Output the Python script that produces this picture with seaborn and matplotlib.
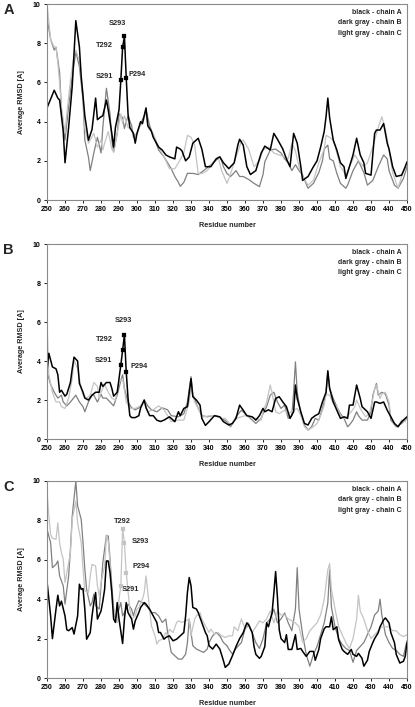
import numpy as np
import pandas as pd
import matplotlib
matplotlib.use('Agg')
import matplotlib.pyplot as plt
import seaborn as sns

# ---- Panel A data (residue, average RMSD) ----
a_black_res = [250, 254, 256, 257, 259, 260, 262, 264, 266, 268, 269, 271, 273, 275, 277, 278, 280, 281, 283, 284,
               286, 287, 288, 290, 291, 292, 293, 294, 295, 296, 298, 299, 300, 302, 303, 305, 306, 308, 309, 312,
               314, 316, 318, 321, 322, 324, 325, 327, 329, 331, 334, 336, 338, 341, 344, 346, 348, 351, 354, 356,
               357, 359, 361, 363, 366, 369, 371, 374, 376, 378, 381, 383, 385, 387, 389, 391, 392, 395, 398, 400,
               402, 404, 405, 406, 407, 409, 411, 413, 415, 416, 418, 420, 422, 424, 426, 427, 430, 432, 433, 435,
               437, 439, 440, 442, 444, 447, 449, 450]
a_black_val = [4.7, 5.6, 5.2, 5.1, 3.5, 1.9, 3.7, 5.8, 9.15, 7.8, 6.3, 4.3, 3.05, 3.6, 5.2, 4.1, 4.25, 4.3, 5.1, 4.6,
               3.4, 2.7, 3.7, 4.6, 6.1, 7.8, 8.35, 6.25, 4.4, 3.7, 3.4, 2.9, 3.4, 4.0, 3.9, 4.7, 3.8, 3.5, 3.2, 2.7,
               2.55, 2.3, 2.2, 2.1, 2.7, 2.6, 2.5, 2.0, 2.2, 2.9, 3.15, 2.6, 1.7, 1.7, 2.1, 2.2, 1.9, 1.6, 1.9, 2.8,
               3.1, 2.8, 1.7, 1.3, 1.5, 2.4, 2.75, 2.55, 3.4, 3.1, 2.6, 2.1, 1.7, 3.4, 2.9, 1.7, 1.0, 1.2, 1.7, 2.0,
               2.7, 3.5, 4.25, 5.2, 4.2, 3.06, 2.55, 1.9, 1.7, 1.1, 1.7, 2.3, 3.15, 2.3, 1.9, 1.36, 1.27, 3.4, 3.57, 3.57,
               3.9, 2.9, 2.6, 1.7, 1.2, 1.27, 1.7, 1.95]
a_dgray_res = [250, 252, 254, 255, 257, 258, 260, 262, 264, 266, 268, 270, 271, 273, 274, 276, 278, 280, 281, 283,
               285, 286, 287, 289, 290, 292, 293, 295, 297, 298, 300, 302, 304, 305, 307, 309, 312, 315, 317, 319,
               321, 323, 324, 326, 328, 331, 334, 337, 341, 346, 347, 348, 350, 352, 355, 357, 359, 362, 365, 368,
               370, 371, 374, 377, 380, 382, 384, 386, 388, 390, 392, 395, 398, 401, 403, 404, 406, 407, 409, 411,
               413, 416, 417, 420, 423, 426, 428, 431, 434, 437, 439, 440, 443, 445, 448, 450]
a_dgray_val = [9.3, 8.2, 7.65, 7.8, 6.5, 4.6, 3.06, 4.76, 6.3, 7.56, 6.8, 5.1, 3.06, 2.2, 1.5, 2.4, 3.2, 2.4, 3.7, 5.7,
               4.4, 3.06, 2.45, 3.4, 4.4, 4.2, 3.65, 4.3, 3.8, 3.2, 3.4, 3.9, 4.3, 4.6, 3.8, 3.3, 2.55, 2.2, 1.9, 1.6,
               1.2, 0.9, 0.7, 0.9, 1.36, 1.36, 1.3, 1.5, 1.8, 2.2, 2.0, 1.7, 1.35, 1.2, 1.5, 1.2, 1.2, 1.05, 0.85, 0.68,
               1.3, 1.95, 2.55, 2.6, 2.4, 2.1, 1.9, 1.5, 1.8, 1.5, 1.27, 0.6, 0.85, 1.4, 2.0, 2.6, 2.8, 2.1, 2.0, 1.36,
               0.85, 0.6, 0.76, 1.5, 2.0, 1.4, 0.76, 1.0, 1.7, 2.3, 2.1, 1.5, 0.76, 0.6, 1.1, 1.7]
a_lgray_res = [250, 252, 254, 255, 256, 257, 258, 260, 261, 263, 265, 266, 268, 270, 271, 273, 274, 276, 278, 280,
               281, 282, 284, 286, 287, 289, 291, 292, 293, 295, 297, 299, 301, 303, 305, 306, 309, 312, 315, 318,
               321, 323, 326, 328, 330, 332, 334, 336, 339, 342, 345, 347, 350, 352, 355, 358, 359, 362, 365, 368,
               370, 373, 376, 379, 382, 384, 386, 388, 390, 392, 395, 398, 401, 404, 405, 407, 409, 411, 413, 416,
               418, 421, 423, 426, 428, 431, 434, 436, 438, 440, 442, 445, 447, 450]
a_lgray_val = [10.0, 8.2, 7.8, 7.8, 7.0, 5.95, 4.76, 3.4, 4.4, 6.1, 7.4, 7.65, 7.1, 5.4, 3.7, 2.9, 3.06, 3.4, 2.7, 3.06,
               2.55, 2.9, 3.5, 2.6, 2.45, 3.4, 4.4, 3.9, 4.3, 3.7, 3.6, 3.2, 3.7, 3.9, 4.5, 3.7, 3.4, 2.7, 2.2, 1.6,
               1.6, 1.9, 2.4, 3.3, 3.2, 2.8, 1.35, 1.35, 1.5, 1.9, 2.2, 1.5, 0.85, 1.35, 2.2, 3.0, 3.06, 2.6, 1.7, 2.0,
               2.55, 2.7, 2.4, 2.3, 2.2, 2.1, 2.9, 2.5, 1.7, 1.2, 0.76, 1.0, 1.9, 2.6, 3.3, 3.2, 3.06, 2.4, 1.7, 1.27,
               1.7, 2.3, 2.0, 1.7, 1.9, 2.7, 3.7, 4.25, 3.57, 2.55, 1.4, 0.6, 1.2, 1.9]

# ---- Panel B data ----
b_black_res = [250, 251, 253, 255, 256, 257, 258, 260, 261, 263, 264, 265, 267, 268, 270, 271, 273, 275, 277, 279,
               280, 281, 283, 285, 286, 287, 289, 291, 292, 293, 294, 295, 296, 297, 299, 301, 302, 304, 305, 307,
               309, 311, 313, 315, 318, 321, 323, 324, 326, 328, 330, 331, 333, 335, 336, 338, 340, 343, 346, 348,
               351, 353, 355, 357, 359, 361, 364, 366, 368, 370, 371, 373, 375, 377, 379, 381, 383, 385, 387, 388,
               389, 391, 393, 395, 397, 399, 401, 403, 405, 406, 407, 409, 411, 413, 415, 417, 418, 420, 422, 424,
               425, 428, 430, 432, 433, 435, 437, 439, 441, 443, 445, 447, 450]
b_black_val = [3.5, 4.4, 3.7, 3.6, 3.3, 2.4, 2.5, 2.2, 2.3, 2.9, 3.6, 4.2, 4.0, 2.85, 2.4, 2.1, 2.0, 2.25, 2.4, 2.4,
               2.9, 2.7, 2.9, 2.9, 2.6, 2.2, 2.4, 3.8, 4.55, 5.35, 3.45, 2.1, 1.2, 1.1, 1.1, 1.2, 1.6, 2.0, 1.6, 1.2,
               1.2, 0.97, 0.9, 0.97, 1.14, 0.89, 1.4, 1.2, 1.57, 1.66, 3.1, 2.17, 2.0, 1.74, 1.06, 0.7, 0.89, 1.2, 1.14, 0.89,
               0.72, 0.8, 1.06, 1.74, 1.48, 1.2, 1.14, 0.97, 1.2, 1.57, 1.4, 1.5, 1.4, 2.08, 2.17, 1.9, 1.66, 1.06, 1.4, 2.77,
               2.08, 1.4, 0.8, 0.72, 1.06, 1.2, 1.3, 1.9, 2.4, 3.5, 2.6, 1.9, 1.48, 1.06, 1.14, 1.06, 1.74, 1.74, 2.77, 2.08,
               1.66, 1.4, 1.06, 1.9, 1.9, 1.83, 1.9, 1.48, 1.14, 0.8, 0.63, 0.89, 1.14]
b_dgray_res = [250, 252, 254, 256, 258, 259, 261, 263, 266, 268, 270, 271, 273, 275, 276, 278, 280, 281, 283, 285,
               287, 289, 291, 292, 293, 295, 297, 299, 301, 303, 304, 306, 308, 311, 314, 317, 319, 323, 326, 328,
               330, 331, 334, 336, 339, 342, 345, 347, 350, 352, 355, 358, 360, 363, 366, 369, 370, 372, 374, 376,
               378, 380, 382, 384, 386, 387, 388, 389, 391, 393, 395, 397, 399, 401, 403, 405, 406, 407, 409, 411,
               413, 415, 417, 418, 420, 422, 423, 425, 428, 430, 431, 433, 434, 436, 438, 440, 441, 444, 447, 450]
b_dgray_val = [3.45, 2.8, 2.4, 2.1, 2.25, 1.9, 1.7, 1.9, 2.25, 1.9, 1.66, 1.4, 1.9, 2.25, 2.25, 1.9, 2.3, 2.1, 2.1, 1.9,
               1.7, 2.25, 3.0, 3.3, 2.6, 1.9, 1.6, 1.5, 1.6, 1.8, 2.0, 1.7, 1.5, 1.4, 1.6, 1.5, 1.2, 1.14, 1.3, 1.9,
               3.2, 2.3, 1.57, 1.2, 1.14, 1.2, 1.14, 1.06, 0.89, 0.63, 1.14, 1.48, 1.3, 1.06, 0.8, 1.06, 1.3, 1.66, 2.25, 2.4,
               1.9, 1.57, 1.74, 1.06, 1.2, 2.4, 3.96, 2.4, 1.3, 0.72, 0.46, 0.63, 1.06, 0.97, 1.57, 2.3, 3.45, 2.6, 2.08, 1.66,
               1.3, 1.06, 0.63, 0.72, 0.97, 1.4, 1.2, 0.97, 0.97, 1.4, 2.25, 2.85, 2.25, 2.4, 2.3, 1.74, 0.97, 0.63, 0.8, 1.06]
b_lgray_res = [250, 251, 253, 255, 257, 258, 260, 262, 264, 265, 267, 269, 270, 272, 274, 276, 278, 279, 280, 282,
               284, 286, 288, 290, 292, 293, 294, 296, 299, 302, 304, 306, 309, 312, 315, 317, 319, 323, 326, 329,
               330, 332, 335, 337, 341, 344, 347, 349, 352, 355, 358, 360, 363, 366, 369, 370, 372, 374, 375, 377,
               379, 382, 384, 387, 389, 391, 393, 395, 398, 400, 402, 404, 405, 407, 409, 411, 413, 415, 417, 419,
               421, 422, 424, 427, 429, 431, 432, 433, 435, 436, 438, 440, 441, 443, 445, 447, 449, 450]
b_lgray_val = [6.0, 3.3, 2.4, 1.9, 1.9, 1.66, 1.57, 2.1, 3.1, 4.05, 3.6, 2.6, 2.25, 2.1, 2.25, 2.9, 2.7, 2.1, 2.4, 2.8,
               2.4, 2.1, 2.0, 2.9, 3.1, 2.5, 1.9, 1.57, 1.57, 1.7, 2.0, 1.4, 1.5, 1.7, 1.5, 1.2, 0.89, 0.97, 0.97, 1.9,
               2.6, 1.9, 1.4, 1.14, 1.2, 1.2, 1.06, 1.06, 0.72, 1.06, 1.14, 1.2, 1.14, 1.06, 0.97, 1.4, 1.9, 2.77, 2.4, 1.4,
               1.3, 1.48, 1.3, 1.48, 1.57, 1.2, 0.63, 0.46, 0.63, 0.8, 1.2, 1.74, 2.3, 2.25, 1.83, 1.66, 1.2, 1.06, 1.2, 1.4,
               1.66, 2.0, 1.57, 1.14, 1.3, 2.08, 2.6, 2.77, 2.08, 2.3, 2.4, 1.9, 1.14, 0.72, 0.63, 0.97, 0.89, 1.2]

# ---- Panel C data ----
c_black_res = [250, 252, 253, 255, 256, 257, 258, 260, 261, 262,
               264, 265, 267, 268, 269, 270, 271, 272, 274, 275,
               276, 277, 278, 280, 281, 282, 283, 284, 285, 286,
               287, 288, 289, 290, 292, 293, 294, 295, 297, 298,
               299, 301, 302, 304, 305, 307, 309, 311, 312, 313,
               315, 316, 318, 320, 322, 324, 326, 327, 328, 329,
               330, 331, 333, 334, 336, 338, 339, 340, 342, 344,
               346, 348, 349, 351, 353, 355, 357, 359, 361, 362,
               364, 365, 366, 368, 369, 371, 372, 373, 375, 376,
               377, 378, 379, 380, 382, 383, 384, 386, 388, 389,
               391, 392, 394, 396, 398, 399, 401, 402, 404, 405,
               407, 408, 409, 411, 412, 414, 415, 417, 419, 420,
               422, 423, 425, 426, 428, 429, 431, 432, 434, 435,
               437, 438, 440, 441, 443, 444, 446, 448, 449, 450]
c_black_val = [4.9, 3.15, 2.0, 3.5, 4.2, 3.66, 3.9, 3.15, 2.45, 2.4,
               2.56, 2.23, 3.15, 4.76, 4.5, 4.54, 3.5, 1.97, 2.3, 3.15,
               3.83, 4.34, 2.99, 3.4, 3.9, 4.5, 5.94, 5.94, 5.35, 4.34,
               2.99, 2.82, 3.83, 2.99, 1.75, 2.99, 3.83, 3.32, 2.99, 2.48,
               2.9, 3.32, 3.58, 3.83, 3.75, 3.49, 3.15, 2.82, 2.31, 2.31,
               1.97, 2.06, 2.14, 1.89, 1.97, 2.14, 2.31, 3.15, 4.34, 5.1,
               4.68, 3.58, 3.5, 3.32, 2.82, 2.31, 2.14, 1.64, 1.47, 1.72,
               1.47, 0.88, 0.54, 0.71, 1.13, 1.6, 2.0, 2.3, 2.8, 2.7,
               2.3, 1.6, 1.2, 1.0, 1.1, 1.6, 2.8, 2.6, 3.3, 4.3,
               5.4, 4.1, 2.45, 2.0, 1.8, 2.2, 1.45, 1.45, 2.2, 1.45,
               1.5, 1.35, 1.1, 1.35, 1.35, 0.9, 1.45, 2.0, 2.5, 2.6,
               2.6, 3.1, 2.45, 2.6, 1.95, 1.45, 1.35, 1.2, 1.45, 1.2,
               1.1, 1.25, 1.0, 0.6, 0.9, 1.35, 1.8, 2.0, 2.3, 2.6,
               2.95, 3.05, 2.8, 2.3, 1.8, 1.2, 0.76, 0.85, 1.1, 1.8]
c_dgray_res = [250, 252, 253, 255, 256, 257, 259, 260, 262, 263,
               264, 266, 267, 269, 270, 271, 272, 274, 275, 276,
               277, 279, 280, 281, 283, 284, 285, 286, 287, 288,
               290, 291, 292, 294, 295, 297, 298, 299, 301, 303,
               304, 306, 308, 310, 312, 314, 316, 317, 319, 321,
               323, 325, 327, 328, 329, 330, 331, 333, 335, 337,
               339, 340, 342, 344, 346, 348, 350, 351, 353, 355,
               358, 360, 362, 364, 366, 368, 370, 372, 374, 376,
               378, 380, 382, 384, 386, 388, 389, 390, 392, 394,
               396, 398, 400, 402, 404, 406, 407, 408, 410, 412,
               414, 416, 418, 420, 422, 424, 426, 428, 430, 432,
               434, 435, 436, 438, 440, 442, 444, 446, 448, 450]
c_dgray_val = [7.55, 6.87, 5.6, 5.77, 5.94, 5.18, 4.68, 3.75, 5.18, 6.53,
               8.22, 10.0, 8.73, 8.05, 6.87, 5.52, 4.5, 3.66, 3.83, 4.25,
               3.66, 3.5, 4.68, 5.86, 7.24, 7.2, 6.03, 4.68, 3.5, 2.99,
               3.5, 3.83, 3.15, 3.5, 3.75, 3.49, 3.15, 3.49, 3.92, 3.83,
               3.75, 3.58, 3.32, 3.32, 3.15, 2.82, 2.99, 2.31, 1.3, 1.13,
               0.96, 0.96, 1.21, 1.8, 2.99, 2.31, 1.64, 1.47, 1.38, 1.3,
               1.47, 1.8, 2.14, 2.31, 2.14, 1.8, 1.64, 1.47, 1.21, 1.5,
               1.8, 2.5, 2.7, 2.3, 1.8, 1.5, 2.0, 2.8, 3.0, 3.5,
               2.8, 3.0, 3.3, 2.8, 2.4, 3.5, 5.6, 3.5, 2.2, 1.2,
               0.6, 1.2, 1.6, 2.2, 2.8, 3.8, 5.5, 3.6, 2.6, 2.0,
               1.7, 1.5, 1.4, 0.8, 1.4, 1.6, 1.8, 2.2, 2.6, 3.2,
               3.4, 4.0, 3.2, 2.2, 1.8, 1.5, 1.4, 1.2, 1.1, 1.9]
c_lgray_res = [250, 251, 252, 253, 255, 256, 257, 258, 259, 260,
               261, 263, 264, 266, 267, 269, 270, 271, 273, 274,
               275, 277, 278, 279, 280, 282, 283, 284, 285, 286,
               288, 289, 290, 291, 292, 293, 294, 296, 297, 299,
               300, 301, 303, 304, 305, 307, 308, 310, 311, 312,
               314, 316, 317, 318, 320, 322, 323, 325, 327, 329,
               330, 332, 333, 335, 336, 338, 340, 341, 343, 345,
               347, 349, 351, 353, 354, 356, 358, 360, 362, 364,
               366, 368, 370, 372, 374, 376, 378, 380, 382, 384,
               386, 388, 390, 392, 394, 396, 398, 400, 402, 404,
               406, 407, 408, 410, 412, 414, 416, 418, 420, 422,
               423, 424, 426, 428, 430, 432, 434, 436, 438, 440,
               442, 444, 446, 448, 450]
c_lgray_val = [9.5, 8.22, 7.29, 7.1, 7.04, 7.88, 6.87, 6.36, 6.03, 4.84,
               5.35, 6.36, 8.05, 8.98, 7.88, 6.87, 5.52, 4.42, 4.34, 5.18,
               5.77, 5.69, 4.68, 4.17, 4.84, 5.69, 7.24, 6.96, 5.86, 4.17,
               2.99, 2.82, 4.0, 4.68, 7.58, 6.87, 5.35, 3.49, 2.99, 3.15,
               3.49, 3.58, 4.0, 4.34, 5.18, 3.49, 2.65, 2.14, 1.72, 1.89,
               1.97, 2.31, 2.14, 2.48, 2.31, 2.82, 2.9, 2.82, 2.9, 2.99,
               2.14, 2.99, 3.15, 3.32, 2.99, 2.65, 2.31, 2.48, 2.23, 2.31,
               2.14, 2.06, 2.14, 2.14, 2.6, 2.4, 3.0, 2.5, 2.8, 2.3,
               2.6, 2.9, 2.8, 3.0, 3.4, 2.8, 3.4, 3.2, 3.2, 3.0,
               2.9, 2.8, 2.6, 1.8, 2.0, 2.4, 2.6, 2.8, 3.2, 4.0,
               5.5, 5.8, 4.5, 3.5, 2.6, 2.2, 1.8, 1.5, 2.0, 3.0,
               4.2, 3.4, 3.0, 2.4, 2.0, 2.2, 2.4, 2.6, 2.6, 2.6,
               2.4, 2.4, 2.2, 2.1, 2.2]

site_residues = [291, 292, 293, 294]
site_labels = ['S291', 'T292', 'S293', 'P294']
chain_names = ['black - chain A', 'dark gray - chain B', 'light gray - chain C']
chain_colors = ['#000000', '#808080', '#c4c4c4']

sns.set_style('ticks')
plt.rcParams['font.family'] = ['Liberation Sans', 'DejaVu Sans']
plt.rcParams['font.weight'] = 'bold'

fig = plt.figure(figsize=(4.15, 7.07), dpi=100)

left, width = 0.1133, 0.8675
panels = [
    ('A', [left, 0.7171, width, 0.2772],
     [(a_dgray_res, a_dgray_val), (a_lgray_res, a_lgray_val), (a_black_res, a_black_val)],
     0, {'S291': (-12, 2.5), 'T292': (-13.5, 1), 'S293': (-5, 9.5), 'P294': (8, 2)}),
    ('B', [left, 0.379, width, 0.2758],
     [(b_dgray_res, b_dgray_val), (b_lgray_res, b_lgray_val), (b_black_res, b_black_val)],
     0, {'S291': (-12.5, 3), 'T292': (-13.5, 8), 'S293': (-0.5, 10.5), 'P294': (9, 4)}),
    ('C', [left, 0.041, width, 0.2787],
     [(c_dgray_res, c_dgray_val), (c_lgray_res, c_lgray_val), (c_black_res, c_black_val)],
     2, {'S291': (7, -2.5), 'T292': (0, 5.5), 'S293': (11.5, 1), 'P294': (10.5, 4.5)}),
]
# order of lines in each panel list: chain B, chain C, chain A
line_idx = [1, 2, 0]

for letter, rect, lines, site_chain, offsets in panels:
    ax = fig.add_axes(rect)
    for (res, val), ci in zip(lines, line_idx):
        df = pd.DataFrame({'residue': res, 'rmsd': val})
        sns.lineplot(data=df, x='residue', y='rmsd', ax=ax, color=chain_colors[ci],
                     linewidth=1.1 if ci == 0 else 0.9, estimator=None, sort=True)
    # marked residues on the chain that carries the labels
    res, val = lines[line_idx.index(site_chain)]
    lookup = dict(zip(res, val))
    pts = pd.DataFrame({'residue': site_residues, 'rmsd': [lookup[r] for r in site_residues]})
    sns.scatterplot(data=pts, x='residue', y='rmsd', ax=ax, marker='s', s=5,
                    color=chain_colors[site_chain], edgecolor=chain_colors[site_chain], zorder=5)
    for lab, r in zip(site_labels, site_residues):
        ax.annotate(lab, xy=(r, lookup[r]), xytext=offsets[lab], textcoords='offset points',
                    ha='center', va='center', fontsize=5.3, fontweight='bold')

    ax.set_xlim(250, 450)
    ax.set_ylim(0, 10)
    ax.set_xticks(np.arange(250, 451, 10))
    ax.set_yticks(np.arange(0, 11, 2))
    ax.tick_params(labelsize=5.0, length=2, width=0.6, pad=2.5, colors='#000000')
    for lbl in ax.get_xticklabels() + ax.get_yticklabels():
        lbl.set_fontweight('bold')
    ax.set_xlabel('Residue number', fontsize=5.2, fontweight='bold', labelpad=6)
    ax.set_ylabel('Average RMSD [A]', fontsize=5.2, fontweight='bold', labelpad=6)
    for sp in ax.spines.values():
        sp.set_color('#8a8a8a')
        sp.set_linewidth(0.8)
    for k, name in enumerate(chain_names):
        ax.text(0.985, 0.958 - k * 0.053, name, transform=ax.transAxes, ha='right', va='center',
                fontsize=5.0, fontweight='bold')
    fig.text(0.008, rect[1] + rect[3] - 0.008, letter, fontsize=10.5, fontweight='bold', va='center', ha='left')

fig.savefig('out.png', dpi=100)
